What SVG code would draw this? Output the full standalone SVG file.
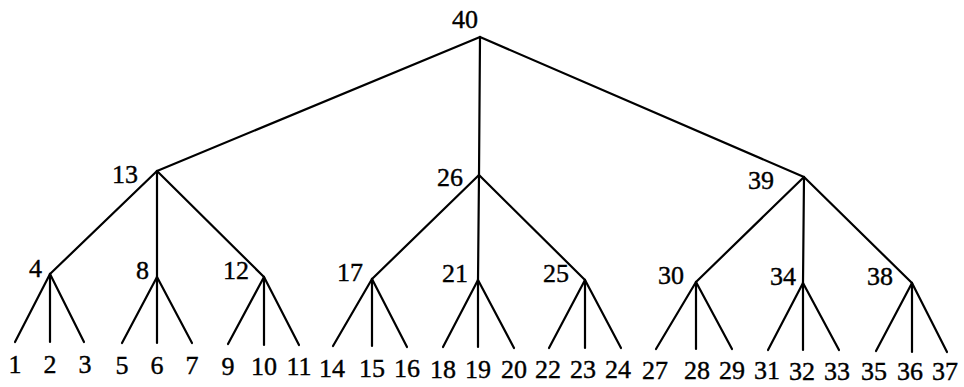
<svg xmlns="http://www.w3.org/2000/svg" width="964" height="387" viewBox="0 0 964 387">
<style>
text{font-family:"Liberation Serif","Times New Roman",serif;font-size:26px;fill:#000;stroke:#000;stroke-width:0.4}
.i{text-anchor:end}
.l{text-anchor:middle}
line{stroke:#000;stroke-width:2.2;stroke-linecap:round}
</style>
<rect width="964" height="387" fill="#fff"/>
<g id="connectors">
<line x1="480" y1="37" x2="157" y2="171"/>
<line x1="480" y1="37" x2="479" y2="175"/>
<line x1="480" y1="37" x2="804" y2="177"/>
<line x1="157" y1="171" x2="50" y2="274"/>
<line x1="157" y1="171" x2="157" y2="277"/>
<line x1="157" y1="171" x2="264" y2="277"/>
<line x1="479" y1="175" x2="372" y2="279"/>
<line x1="479" y1="175" x2="478" y2="280"/>
<line x1="479" y1="175" x2="585" y2="280"/>
<line x1="804" y1="177" x2="696" y2="282"/>
<line x1="804" y1="177" x2="803" y2="283"/>
<line x1="804" y1="177" x2="912" y2="283"/>
<line x1="50" y1="274" x2="15" y2="342"/>
<line x1="50" y1="274" x2="50" y2="342"/>
<line x1="50" y1="274" x2="84" y2="342"/>
<line x1="157" y1="277" x2="122" y2="343"/>
<line x1="157" y1="277" x2="157" y2="343"/>
<line x1="157" y1="277" x2="192" y2="343"/>
<line x1="264" y1="277" x2="228" y2="344"/>
<line x1="264" y1="277" x2="264" y2="345"/>
<line x1="264" y1="277" x2="299" y2="345"/>
<line x1="372" y1="279" x2="333" y2="346"/>
<line x1="372" y1="279" x2="372" y2="346"/>
<line x1="372" y1="279" x2="407" y2="347"/>
<line x1="478" y1="280" x2="443" y2="347"/>
<line x1="478" y1="280" x2="478" y2="347"/>
<line x1="478" y1="280" x2="514" y2="348"/>
<line x1="585" y1="280" x2="549" y2="348"/>
<line x1="585" y1="280" x2="585" y2="348"/>
<line x1="585" y1="280" x2="621" y2="348"/>
<line x1="696" y1="282" x2="656" y2="349"/>
<line x1="696" y1="282" x2="696" y2="349"/>
<line x1="696" y1="282" x2="732" y2="349"/>
<line x1="803" y1="283" x2="768" y2="350"/>
<line x1="803" y1="283" x2="803" y2="350"/>
<line x1="803" y1="283" x2="839" y2="350"/>
<line x1="912" y1="283" x2="876" y2="351"/>
<line x1="912" y1="283" x2="912" y2="352"/>
<line x1="912" y1="283" x2="947" y2="352"/>
</g>
<g id="n40"><text class="i" x="478" y="28">40</text></g>
<g id="n13"><text class="i" x="138" y="183">13</text></g>
<g id="n26"><text class="i" x="463" y="186">26</text></g>
<g id="n39"><text class="i" x="774" y="189">39</text></g>
<g id="n4"><text class="i" x="42" y="277">4</text></g>
<g id="n8"><text class="i" x="149" y="279">8</text></g>
<g id="n12"><text class="i" x="249" y="279">12</text></g>
<g id="n17"><text class="i" x="363" y="281">17</text></g>
<g id="n21"><text class="i" x="468" y="282">21</text></g>
<g id="n25"><text class="i" x="569" y="282">25</text></g>
<g id="n30"><text class="i" x="684" y="284">30</text></g>
<g id="n34"><text class="i" x="796" y="285">34</text></g>
<g id="n38"><text class="i" x="893" y="285">38</text></g>
<g id="n1"><text class="l" x="15" y="373">1</text></g>
<g id="n2"><text class="l" x="50" y="373">2</text></g>
<g id="n3"><text class="l" x="85" y="373">3</text></g>
<g id="n5"><text class="l" x="122" y="374">5</text></g>
<g id="n6"><text class="l" x="157" y="374">6</text></g>
<g id="n7"><text class="l" x="192" y="374">7</text></g>
<g id="n9"><text class="l" x="228" y="375">9</text></g>
<g id="n10"><text class="l" x="264" y="375">10</text></g>
<g id="n11"><text class="l" x="299" y="375">11</text></g>
<g id="n14"><text class="l" x="332" y="377">14</text></g>
<g id="n15"><text class="l" x="372" y="377">15</text></g>
<g id="n16"><text class="l" x="407" y="377">16</text></g>
<g id="n18"><text class="l" x="443" y="378">18</text></g>
<g id="n19"><text class="l" x="478" y="378">19</text></g>
<g id="n20"><text class="l" x="514" y="378">20</text></g>
<g id="n22"><text class="l" x="548" y="378">22</text></g>
<g id="n23"><text class="l" x="583" y="378">23</text></g>
<g id="n24"><text class="l" x="618" y="378">24</text></g>
<g id="n27"><text class="l" x="655" y="379">27</text></g>
<g id="n28"><text class="l" x="697" y="379">28</text></g>
<g id="n29"><text class="l" x="732" y="379">29</text></g>
<g id="n31"><text class="l" x="767" y="379">31</text></g>
<g id="n32"><text class="l" x="802" y="380">32</text></g>
<g id="n33"><text class="l" x="837" y="380">33</text></g>
<g id="n35"><text class="l" x="874" y="380">35</text></g>
<g id="n36"><text class="l" x="910" y="380">36</text></g>
<g id="n37"><text class="l" x="945" y="380">37</text></g>
</svg>
